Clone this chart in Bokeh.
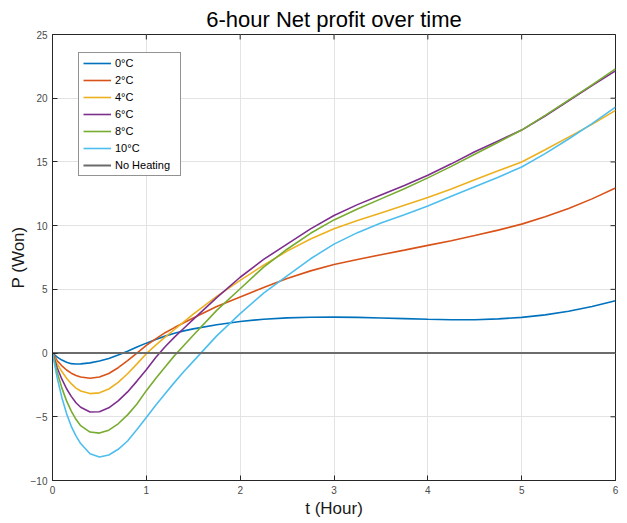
import math
from bokeh.plotting import figure
from bokeh.models import Range1d, FixedTicker, Legend, LegendItem
from bokeh.embed import file_html
from bokeh.resources import INLINE

# ---- data ----
t_hours = [0, 0.05, 0.1, 0.15, 0.2, 0.25, 0.3, 0.4, 0.5, 0.6, 0.7, 0.8, 0.9, 1.0, 1.1, 1.2, 1.3,
           1.4, 1.5, 1.75, 2.0, 2.25, 2.5, 2.75, 3.0, 3.25, 3.5, 3.75, 4.0, 4.25, 4.5, 4.75,
           5.0, 5.25, 5.5, 5.75, 6.0]

p_0c = [0, -0.32, -0.55, -0.72, -0.83, -0.86, -0.85, -0.77, -0.62, -0.42, -0.15, 0.15, 0.47,
        0.78, 1.07, 1.33, 1.55, 1.74, 1.9, 2.22, 2.48, 2.66, 2.76, 2.81, 2.82, 2.8, 2.75, 2.7,
        2.65, 2.62, 2.62, 2.68, 2.8, 3.0, 3.28, 3.65, 4.1]
p_2c = [0, -0.6, -1.0, -1.33, -1.58, -1.76, -1.88, -1.97, -1.88, -1.6, -1.15, -0.6, 0.0, 0.6,
        1.12, 1.6, 2.0, 2.38, 2.75, 3.65, 4.4, 5.15, 5.85, 6.45, 6.95, 7.35, 7.72, 8.08, 8.45,
        8.82, 9.22, 9.65, 10.12, 10.7, 11.35, 12.1, 12.95]
p_4c = [0, -0.85, -1.45, -1.97, -2.4, -2.75, -2.98, -3.18, -3.12, -2.82, -2.3, -1.62, -0.85,
        -0.05, 0.62, 1.25, 1.85, 2.45, 3.05, 4.45, 5.7, 6.9, 8.0, 8.95, 9.75, 10.4, 11.0, 11.6,
        12.2, 12.88, 13.6, 14.3, 15.0, 15.95, 16.95, 17.95, 19.05]
p_6c = [0, -1.15, -2.05, -2.8, -3.4, -3.9, -4.25, -4.62, -4.6, -4.3, -3.75, -3.05, -2.2, -1.3,
        -0.35, 0.5, 1.25, 1.95, 2.65, 4.35, 5.95, 7.35, 8.55, 9.75, 10.8, 11.65, 12.4, 13.15,
        13.95, 14.85, 15.8, 16.65, 17.5, 18.6, 19.8, 21.0, 22.15]
p_8c = [0, -1.5, -2.75, -3.75, -4.55, -5.2, -5.7, -6.2, -6.28, -6.05, -5.55, -4.85, -4.0,
        -2.95, -2.0, -1.1, -0.2, 0.6, 1.4, 3.35, 5.05, 6.75, 8.15, 9.4, 10.45, 11.3, 12.1,
        12.9, 13.75, 14.65, 15.6, 16.55, 17.5, 18.65, 19.85, 21.05, 22.3]
p_10c = [0, -1.95, -3.5, -4.75, -5.75, -6.5, -7.1, -7.9, -8.15, -8.0, -7.55, -6.9, -6.0,
         -5.05, -4.1, -3.2, -2.3, -1.45, -0.65, 1.35, 3.1, 4.7, 6.05, 7.4, 8.55, 9.45, 10.2,
         10.85, 11.55, 12.3, 13.05, 13.8, 14.6, 15.65, 16.8, 18.0, 19.3]
no_heating_t = [0, 6]
no_heating_p = [0, 0]

series_labels = ["0°C", "2°C", "4°C", "6°C", "8°C", "10°C"]
x_ticks = [0, 1, 2, 3, 4, 5, 6]
y_ticks = [-10, -5, 0, 5, 10, 15, 20, 25]

colors = ["#0072BD", "#D95319", "#EDB120", "#7E2F8E", "#77AC30", "#4DBEEE"]
FONT = "Liberation Sans"
AXC = "#262626"
TXT = "#4a4a4a"

p = figure(frame_width=563, frame_height=446,
           x_range=Range1d(x_ticks[0], x_ticks[-1]), y_range=Range1d(y_ticks[0], y_ticks[-1]),
           output_backend="svg", toolbar_location=None,
           min_border_left=52, min_border_right=4, min_border_top=34, min_border_bottom=30,
           background_fill_color="white", border_fill_color="white")

p.title.text = "6-hour Net profit over time"
p.title.align = "center"
p.title.text_font = FONT
p.title.text_font_size = "22px"
p.title.text_font_style = "normal"
p.title.text_color = "#000000"
p.title.standoff = 5

p.outline_line_color = AXC
p.outline_line_width = 1

xa = p.xaxis[0]
ya = p.yaxis[0]
xa.ticker = FixedTicker(ticks=x_ticks)
ya.ticker = FixedTicker(ticks=y_ticks)
for ax in (xa, ya):
    ax.axis_line_color = AXC
    ax.major_tick_line_color = AXC
    ax.major_tick_in = 5
    ax.major_tick_out = 0
    ax.minor_tick_line_color = None
    ax.major_label_text_font = FONT
    ax.major_label_text_color = TXT
    ax.major_label_text_font_size = "10px"
    ax.axis_label_text_font = FONT
    ax.axis_label_text_font_style = "normal"
    ax.axis_label_text_font_size = "17px"
    ax.axis_label_text_color = "#1a1a1a"
xa.axis_label = "t (Hour)"
ya.axis_label = "P (Won)"
xa.major_label_standoff = 5
ya.major_label_standoff = 5
xa.axis_label_standoff = 2
ya.axis_label_standoff = 0

p.xgrid.ticker = FixedTicker(ticks=x_ticks)
p.ygrid.ticker = FixedTicker(ticks=y_ticks)
p.xgrid.grid_line_color = "#e3e3e3"
p.ygrid.grid_line_color = "#e3e3e3"

# inward ticks on the top and right edges of the box (half of each dash is clipped by the frame)
p.scatter(x_ticks, [y_ticks[-1]] * len(x_ticks), marker="dash", size=10, angle=math.pi / 2,
          line_color=AXC, line_width=1)
p.scatter([x_ticks[-1]] * len(y_ticks), y_ticks, marker="dash", size=10,
          line_color=AXC, line_width=1)

renderers = []
for vals, col in zip([p_0c, p_2c, p_4c, p_6c, p_8c, p_10c], colors):
    r = p.line(t_hours, vals, line_color=col, line_width=1.6)
    renderers.append(r)
r_nh = p.line(no_heating_t, no_heating_p, line_color="#6b6b6b", line_width=2)

items = [LegendItem(label=lab, renderers=[r]) for lab, r in zip(series_labels, renderers)]
items.append(LegendItem(label="No Heating", renderers=[r_nh]))
legend = Legend(items=items, location=(26, 304))
legend.label_text_font = FONT
legend.label_text_font_size = "11px"
legend.label_text_color = "#000000"
legend.border_line_color = AXC
legend.border_line_width = 1
legend.background_fill_color = "white"
legend.background_fill_alpha = 1
legend.padding = 4
legend.spacing = 5
legend.glyph_height = 12
legend.label_height = 12
legend.glyph_width = 28
legend.label_width = 61
legend.label_standoff = 4
legend.margin = 0
p.add_layout(legend)

open("out.html", "w").write(file_html(p, INLINE))
